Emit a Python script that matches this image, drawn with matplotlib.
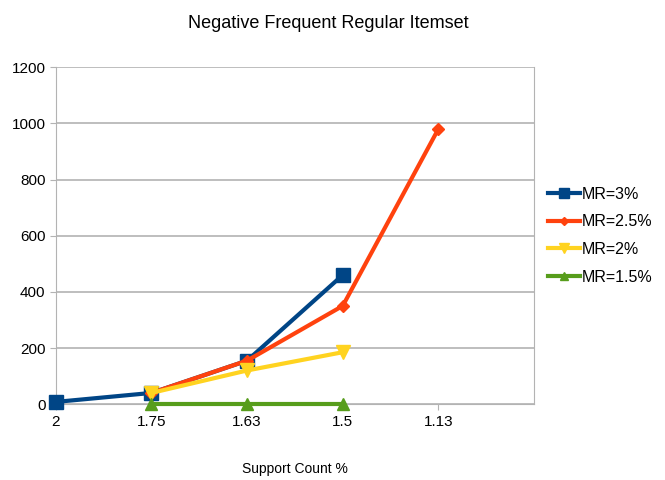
import matplotlib.pyplot as plt

plt.rcParams['font.family'] = ['Liberation Sans', 'DejaVu Sans']

categories = ["2", "1.75", "1.63", "1.5", "1.13"]
mr_3 = [8, 40, 155, 460]
mr_25 = [None, 40, 155, 350, 980]
mr_2 = [None, 40, 120, 185]
mr_15 = [None, 0, 0, 0]

series = [
    ("MR=3%", mr_3, "#004586", "s", 10),
    ("MR=2.5%", mr_25, "#ff420e", "D", 6),
    ("MR=2%", mr_2, "#ffd320", "v", 10),
    ("MR=1.5%", mr_15, "#579d1c", "^", 9),
]

fig = plt.figure(figsize=(6.65, 4.8), dpi=100)
ax = fig.add_axes([0.084, 0.158, 0.719, 0.702])

for name, vals, color, marker, ms in series:
    xs = [i for i, v in enumerate(vals) if v is not None]
    ys = [v for v in vals if v is not None]
    ax.plot(xs, ys, color=color, lw=3, marker=marker, ms=ms, label=name,
            zorder=3, clip_on=False)

ax.set_xlim(0, 5)
ax.set_ylim(0, 1200)
ax.set_xticks(range(len(categories)))
ax.set_xticklabels(categories)
ax.set_yticks(range(0, 1201, 200))
ax.yaxis.grid(True, color="#b3b3b3", lw=1.2)
ax.set_axisbelow(True)
for side in ["left", "right", "bottom"]:
    ax.spines[side].set_color("#b3b3b3")
ax.spines["top"].set_visible(False)
ax.tick_params(colors="#b3b3b3", labelcolor="black", labelsize=11, length=4)

ax.set_title("Negative Frequent Regular Itemset", fontsize=13, pad=28,
             x=0.57)
ax.set_xlabel("Support Count %", fontsize=10, labelpad=24)

ax.legend(loc="center left", bbox_to_anchor=(1.0, 0.50), frameon=False,
          fontsize=11.5, handlelength=2.0, handletextpad=0.1, labelspacing=0.8,
          markerscale=0.7)

fig.savefig("out.png")
